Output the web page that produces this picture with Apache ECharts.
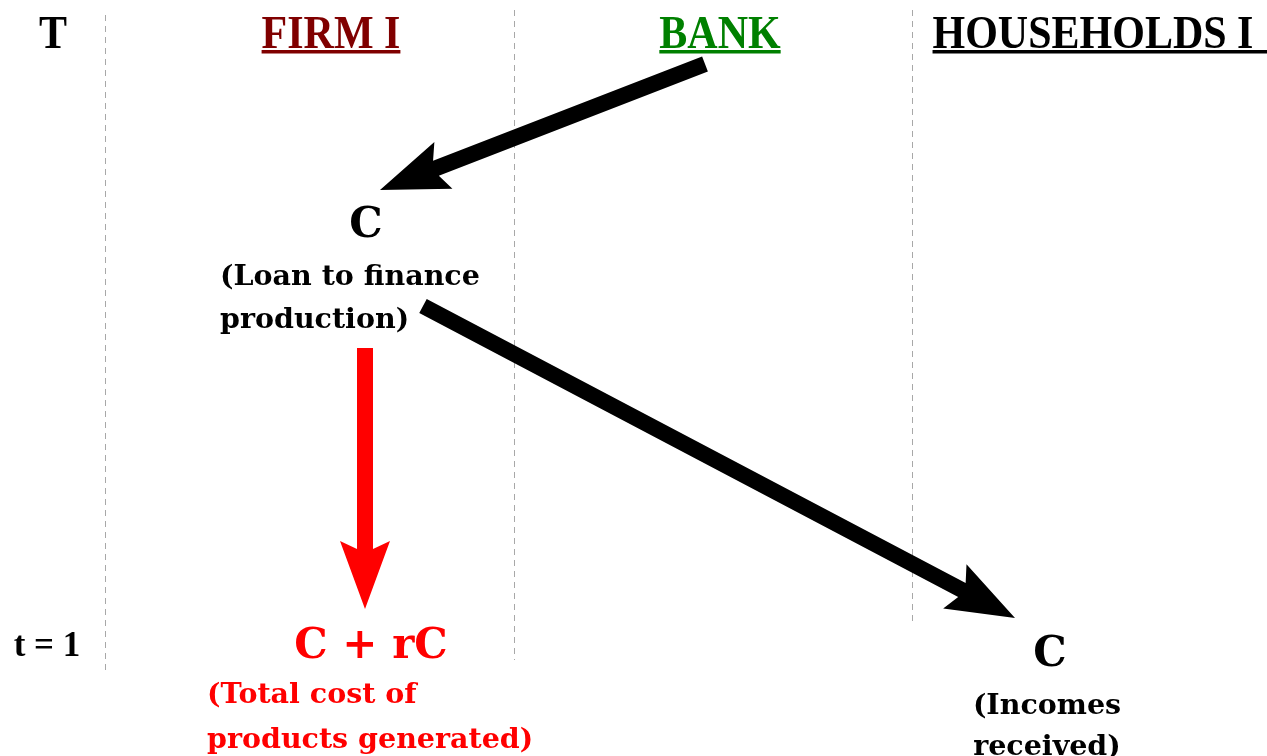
<!DOCTYPE html>
<html><head><meta charset="utf-8">
<script src="https://cdn.jsdelivr.net/npm/echarts@6/dist/echarts.min.js"></script>
<style>html,body{margin:0;padding:0;background:#fff}#c{width:1267px;height:756px}</style>
</head><body><div id="c"></div>
<script>
// ---- data ----
const headerTexts = ['T', 'FIRM I', 'BANK', 'HOUSEHOLDS I'];
const headerX = [53, 331, 720, 1093];
const headerY = [36, 36, 36, 36];
const headerUnderlined = [false, true, true, true];
const headerUnderlineEnd = [null, null, null, 1267];

const dividerX = [105, 514, 912];
const dividerTop = [15, 10, 10];
const dividerBottom = [672, 660, 625];

const arrowStart = [[705, 64], [423, 306], [365, 348]];
const arrowEnd = [[380, 190], [1015, 618], [365, 609]];

const nodeTexts = ['C', '(Loan to finance\nproduction)', 'C + rC', '(Total cost of\nproducts generated)', 'C', '(Incomes\nreceived)', 't = 1'];
const nodeX = [366, 220, 371, 207, 1050, 1047, 47];
const nodeY = [226, 299, 647, 718, 655, 727, 647];

// ---- styles ----
const headerColors = ['#000', '#800000', '#008000', '#000'];
const arrowColors = ['#000', '#000', '#ff0000'];
const nodeColors = ['#000', '#000', '#ff0000', '#ff0000', '#000', '#000', '#000'];
const nodeAlign = ['center', 'left', 'center', 'left', 'center', 'center', 'center'];
const nodeFont = ['big', 'body', 'big', 'body', 'big', 'body', 'times'];
const nodeLineH = [44, 43, 44, 45, 44, 41, 34];
const SERIF_BODY = '"DejaVu Serif", serif';
const fontSpec = {
  big: { size: 42, family: SERIF_BODY },
  body: { size: 28.5, family: SERIF_BODY },
  times: { size: 35, family: '"Liberation Serif", "Times New Roman", serif' }
};
const HEADER_FONT = '"Liberation Serif", "Times New Roman", serif';
const HEADER_SIZE = 42;

const measureCtx = document.createElement('canvas').getContext('2d');
function textWidth(t, font) { measureCtx.font = font; return measureCtx.measureText(t).width; }

const chart = echarts.init(document.getElementById('c'), null, { renderer: 'canvas' });

function arrowShape(p0, p1, shaftW, headLen, headHalf, notch) {
  const dx = p1[0] - p0[0], dy = p1[1] - p0[1];
  const L = Math.hypot(dx, dy);
  const ux = dx / L, uy = dy / L;
  const nx = -uy, ny = ux;
  const w = shaftW / 2;
  const bx = p1[0] - ux * headLen, by = p1[1] - uy * headLen;
  const mx = p1[0] - ux * notch, my = p1[1] - uy * notch;
  return [
    [p0[0] + nx * w, p0[1] + ny * w],
    [mx + nx * w, my + ny * w],
    [bx + nx * headHalf, by + ny * headHalf],
    [p1[0], p1[1]],
    [bx - nx * headHalf, by - ny * headHalf],
    [mx - nx * w, my - ny * w],
    [p0[0] - nx * w, p0[1] - ny * w]
  ];
}

const option = {
  animation: false,
  backgroundColor: '#fff',
  grid: { left: 0, right: 0, top: 0, bottom: 0 },
  xAxis: { type: 'value', min: 0, max: 1267, show: false },
  yAxis: { type: 'value', min: 0, max: 756, inverse: true, show: false },
  series: [
    {
      type: 'lines',
      coordinateSystem: 'cartesian2d',
      silent: true,
      lineStyle: { color: '#a8a8a8', width: 1, type: [6, 5], opacity: 1 },
      data: dividerX.map((x, i) => ({ coords: [[x, dividerTop[i]], [x, dividerBottom[i]]] }))
    },
    {
      type: 'custom',
      silent: true,
      data: arrowStart.map((s, i) => [s[0], s[1], arrowEnd[i][0], arrowEnd[i][1]]),
      encode: { x: [0, 2], y: [1, 3] },
      renderItem: function (params, api) {
        const p0 = api.coord([api.value(0), api.value(1)]);
        const p1 = api.coord([api.value(2), api.value(3)]);
        return {
          type: 'polygon',
          shape: { points: arrowShape(p0, p1, 16, 68, 25, 60) },
          style: { fill: arrowColors[params.dataIndex] }
        };
      }
    },
    {
      type: 'custom',
      silent: true,
      data: headerTexts.map((t, i) => [headerX[i], headerY[i]]),
      encode: { x: 0, y: 1 },
      renderItem: function (params, api) {
        const i = params.dataIndex;
        const p = api.coord([api.value(0), api.value(1)]);
        const font = 'bold ' + HEADER_SIZE + 'px ' + HEADER_FONT;
        const children = [{
          type: 'text',
          x: p[0], y: p[1],
          scaleY: 1.1,
          style: {
            text: headerTexts[i], font: font, fill: headerColors[i],
            align: 'center', verticalAlign: 'middle'
          }
        }];
        if (headerUnderlined[i]) {
          const w = textWidth(headerTexts[i], font);
          const x0 = p[0] - w / 2;
          let x1 = p[0] + w / 2;
          if (headerUnderlineEnd[i] != null) x1 = api.coord([headerUnderlineEnd[i], 0])[0];
          children.push({
            type: 'rect',
            shape: { x: x0, y: p[1] + 14, width: x1 - x0, height: 3.5 },
            style: { fill: headerColors[i] }
          });
        }
        return { type: 'group', children: children };
      }
    },
    {
      type: 'custom',
      silent: true,
      data: nodeTexts.map((t, i) => [nodeX[i], nodeY[i]]),
      encode: { x: 0, y: 1 },
      renderItem: function (params, api) {
        const i = params.dataIndex;
        const p = api.coord([api.value(0), api.value(1)]);
        const f = fontSpec[nodeFont[i]];
        return {
          type: 'text',
          x: p[0], y: p[1],
          style: {
            text: nodeTexts[i],
            font: 'bold ' + f.size + 'px ' + f.family,
            fill: nodeColors[i],
            align: nodeAlign[i],
            verticalAlign: 'middle',
            lineHeight: nodeLineH[i]
          }
        };
      }
    }
  ]
};
chart.setOption(option);
</script>
</body></html>
